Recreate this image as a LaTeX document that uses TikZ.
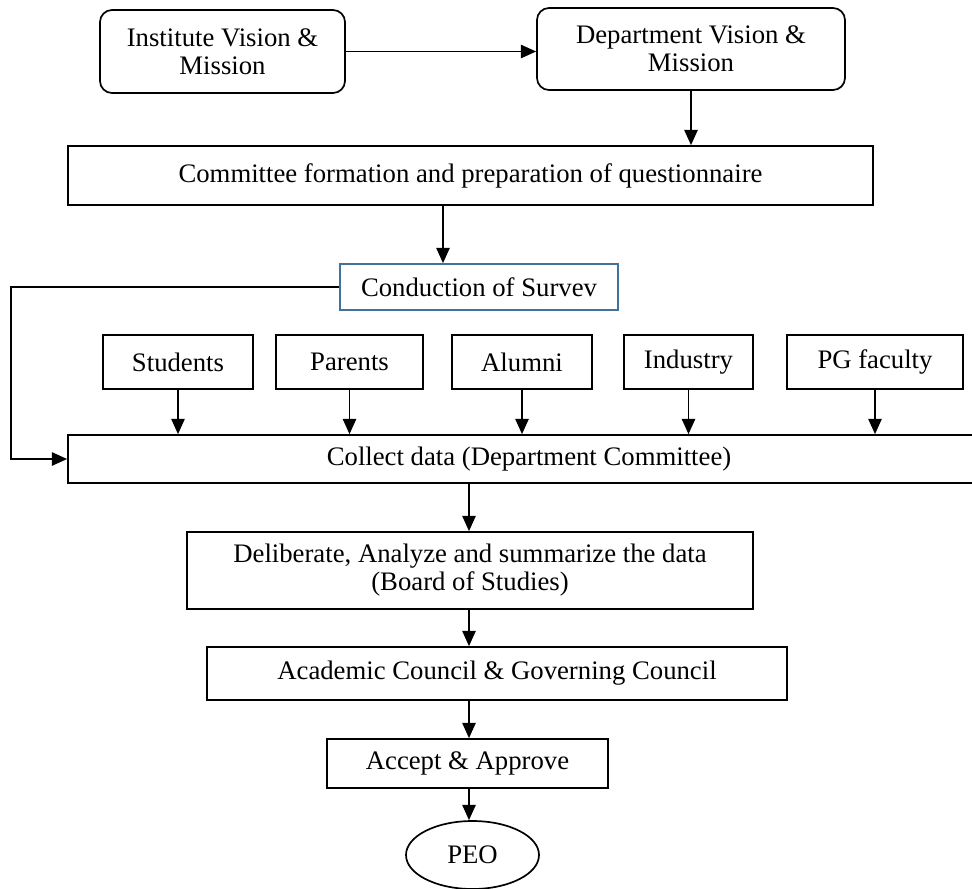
\documentclass[tikz,border=0pt]{standalone}
\usepackage{fontspec}
\setmainfont{Liberation Serif}
\usetikzlibrary{arrows.meta,shapes.geometric}
\tikzset {>={Triangle[length=0.38cm,width=0.33cm]}}
\definecolor{surveyblue}{RGB}{65,113,156}
\tikzset{box/.style={draw,line width=1.2pt,align=center,inner sep=0pt,
    font=\fontsize{19}{20}\selectfont},
  flow/.style={->,line width=1.3pt}}

\begin{document}
\begin{tikzpicture}[x=0.025cm,y=-0.025cm]
\useasboundingbox (0,0) rectangle (972,888);
\node[box,rounded corners=0.3cm,minimum width=245*0.025cm,minimum height=83*0.025cm] (inst) at (222.5,51.5) {Institute Vision \&\\Mission};
\node[box,rounded corners=0.3cm,minimum width=308*0.025cm,minimum height=82*0.025cm] (dept) at (691,49) {Department Vision \&\\Mission};
\node[box,minimum width=805*0.025cm,minimum height=59*0.025cm] (comm) at (470.5,175.5) {Committee formation and preparation of questionnaire};
\node[box,draw=surveyblue,minimum width=278*0.025cm,minimum height=46*0.025cm] (surv) at (479,287) {Conduction of Survev};
\node[box,minimum width=922*0.025cm,minimum height=48*0.025cm] (coll) at (529,459) {Collect data (Department Committee)};
\foreach \nm/\x/\w/\txt in {stud/178/150/Students,par/349.5/147/Parents,alum/522/140/Alumni,ind/688.5/129/Industry,pgf/875/176/PG faculty}
{
  \node[box,minimum width=\w*0.025cm,minimum height=54*0.025cm] (\nm) at (\x,362) {\txt};
  \draw[flow] (\nm.south) -- (\nm.south |- coll.north);
}
\node[box,minimum width=566*0.025cm,minimum height=77*0.025cm] (delib) at (470,570.5) {Deliberate, Analyze and summarize the data\\(Board of Studies)};
\node[box,minimum width=580*0.025cm,minimum height=53*0.025cm] (acad) at (497,673.5) {Academic Council \& Governing Council};
\node[box,minimum width=281*0.025cm,minimum height=49*0.025cm] (acc) at (467.5,763.5) {Accept \& Approve};
\node[box,ellipse,minimum width=133*0.025cm,minimum height=68*0.025cm] (peo) at (472.5,855) {PEO};
\coordinate (sx) at (443,0);
\coordinate (lp) at (11,0);
\coordinate (ax) at (469,0);
\draw[flow] (inst.east) -- (inst.east -| dept.west);
\draw[flow] (dept.south) -- (dept.south |- comm.north);
\draw[flow] (comm.south -| sx) -- (surv.north -| sx);
\draw[flow] (surv.west) -| (lp |- coll.west) -- (coll.west);
\draw[flow] (coll.south -| ax) -- (delib.north -| ax);
\draw[flow] (delib.south -| ax) -- (acad.north -| ax);
\draw[flow] (acad.south -| ax) -- (acc.north -| ax);
\draw[flow] (acc.south -| ax) -- (peo.north -| ax);
\end{tikzpicture}
\end{document}
